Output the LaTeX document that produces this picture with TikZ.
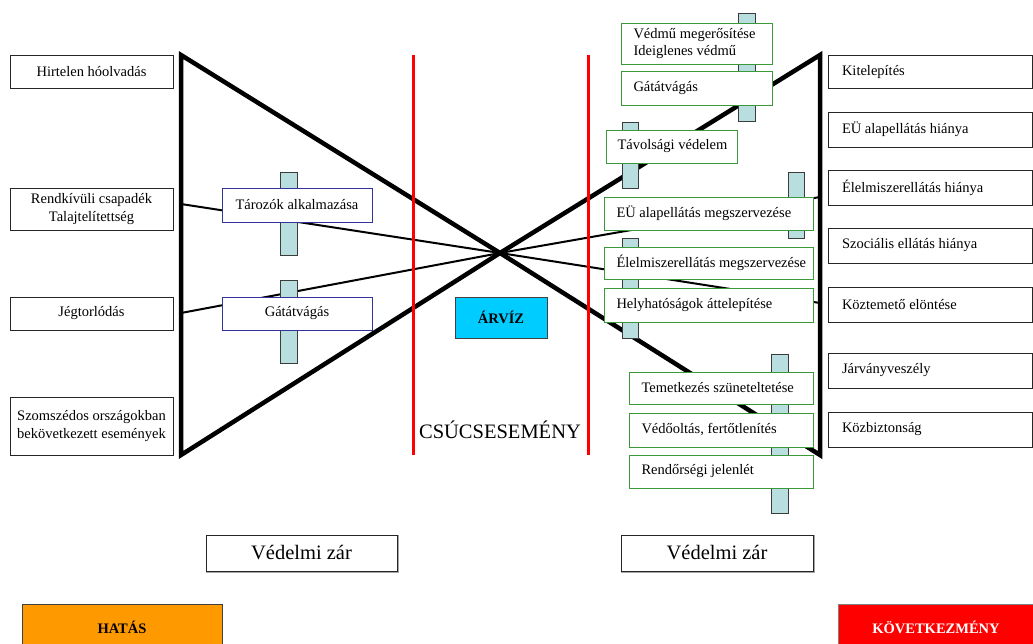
\documentclass[tikz,border=0pt]{standalone}
\usepackage{fontspec}
\setmainfont{Liberation Serif}
\definecolor{barfill}{RGB}{184,222,224}
\definecolor{bardraw}{RGB}{60,60,60}
\definecolor{bluebd}{RGB}{51,51,153}
\definecolor{greenbd}{RGB}{58,154,58}
\definecolor{arviz}{RGB}{0,204,255}
\definecolor{hatas}{RGB}{255,153,0}
\begin{document}
\begin{tikzpicture}[x=1pt,y=-1pt,
  every node/.style={inner sep=0pt, outer sep=0pt, font=\fontsize{14.5}{17.5}\selectfont},
  cbox/.style={draw=black!85, line width=1pt, fill=white, align=center},
  bluebox/.style={draw=bluebd, line width=1pt, fill=white, align=center},
  gbox/.style={draw=greenbd, line width=1pt, fill=white, align=flush left, inner xsep=12.5pt},
  rbox/.style={draw=black!85, line width=1pt, fill=white, align=flush left, inner xsep=14pt},
  barbox/.style={draw=bardraw, fill=barfill, line width=1pt},
  bowline/.style={line width=4.5pt, line join=miter},
  thinline/.style={line width=2pt},
  redline/.style={draw=red, line width=3pt},
  bigtext/.style={font=\fontsize{20.5}{23}\selectfont},
  shadowed/.style={preaction={draw=gray!70, line width=1.5pt, transform canvas={shift={(1pt,-1pt)}}}},
  boldbox/.style={draw=black!75, line width=1pt, font=\fontsize{14.5}{17.5}\selectfont\bfseries}
]
\useasboundingbox (0,0) rectangle (1033,643);

% bow-tie corners
\coordinate (C) at (500,253);
\coordinate (LT) at (181,55);
\coordinate (LB) at (181,455);
\coordinate (RT) at (820,55);
\coordinate (RB) at (820,455);
\coordinate (L1) at (181,204);
\coordinate (L2) at (181,313);
\coordinate (R1) at (820,197);
\coordinate (R2) at (820,303);

\draw[bowline] (LT) -- (C) -- (LB) -- cycle;
\draw[bowline] (RT) -- (C) -- (RB) -- cycle;
\draw[thinline] (L1) -- (C);
\draw[thinline] (L2) -- (C);
\draw[thinline] (C) -- (R1);
\draw[thinline] (C) -- (R2);

% red lines
\coordinate (RLt) at (413,55);
\coordinate (RLb) at (413,455);
\coordinate (RRt) at (588,55);
\coordinate (RRb) at (588,455);
\draw[redline] (RLt) -- (RLb);
\draw[redline] (RRt) -- (RRb);

% barriers (bars)
\draw[barbox] (280,172) rectangle (297,255);
\draw[barbox] (280,280) rectangle (297,363);
\draw[barbox] (738,13) rectangle (755,121);
\draw[barbox] (622,122) rectangle (638,188);
\draw[barbox] (788,172) rectangle (804,238);
\draw[barbox] (622,238) rectangle (638,338);
\draw[barbox] (771,354) rectangle (788,513);

% left cause boxes
\node[cbox, minimum width=163pt, minimum height=33pt] (h1) at (91.5,71.5) {Hirtelen hóolvadás};
\node[cbox, minimum width=163pt, minimum height=42pt] (h2) at (91.5,209) {Rendkívüli csapadék\\Talajtelítettség};
\node[cbox, minimum width=163pt, minimum height=33pt] (h3) at (91.5,313.5) {Jégtorlódás};
\node[cbox, minimum width=163pt, minimum height=58pt] (h4) at (91.5,426) {Szomszédos országokban\\bekövetkezett események};

% left barrier boxes
\node[bluebox, minimum width=150pt, minimum height=34pt] (t1) at (297,205) {Tározók alkalmazása};
\node[bluebox, minimum width=150pt, minimum height=33pt] (t2) at (297,313.5) {Gátátvágás};

% top event
\node[boldbox, fill=arviz, minimum width=92pt, minimum height=41pt] (arv) at (501,317.5) {ÁRVÍZ};
\node[bigtext] (csucs) at (500,430) {CSÚCSESEMÉNY};

% right barrier boxes
\node[gbox, text width=126pt, minimum height=41pt] (g1) at (696.5,43.5) {Védmű megerősítése\\Ideiglenes védmű};
\node[gbox, text width=126pt, minimum height=34pt] (g2) at (696.5,88) {Gátátvágás};
\node[gbox, text width=108pt, minimum height=33pt, inner xsep=11.5pt] (g3) at (671.5,146.5) {\mbox{Távolsági védelem}};
\node[gbox, text width=184pt, minimum height=33pt] (g4) at (708.5,213.5) {EÜ alapellátás megszervezése};
\node[gbox, text width=184pt, minimum height=32pt] (g5) at (708.5,263) {\mbox{Élelmiszerellátás megszervezése}};
\node[gbox, text width=184pt, minimum height=34pt] (g6) at (708.5,305) {Helyhatóságok áttelepítése};
\node[gbox, text width=159pt, minimum height=32pt] (g7) at (721,388) {\mbox{Temetkezés szüneteltetése}};
\node[gbox, text width=159pt, minimum height=34pt] (g8) at (721,430) {Védőoltás, fertőtlenítés};
\node[gbox, text width=159pt, minimum height=33pt] (g9) at (721,471.5) {Rendőrségi jelenlét};

% right consequence boxes
\node[rbox, text width=176.5pt, minimum height=33pt] (k1) at (930.25,71.5) {Kitelepítés};
\node[rbox, text width=176.5pt, minimum height=35pt] (k2) at (930.25,129.5) {EÜ alapellátás hiánya};
\node[rbox, text width=176.5pt, minimum height=35pt] (k3) at (930.25,187.5) {Élelmiszerellátás hiánya};
\node[rbox, text width=176.5pt, minimum height=35pt] (k4) at (930.25,245.5) {Szociális ellátás hiánya};
\node[rbox, text width=176.5pt, minimum height=35pt] (k5) at (930.25,304.5) {Köztemető elöntése};
\node[rbox, text width=176.5pt, minimum height=35pt] (k6) at (930.25,370.5) {Járványveszély};
\node[rbox, text width=176.5pt, minimum height=35pt] (k7) at (930.25,429.5) {Közbiztonság};

% bottom boxes
\node[cbox, shadowed, bigtext, minimum width=191pt, minimum height=36pt] (v1) at (301.5,553) {Védelmi zár};
\node[cbox, shadowed, bigtext, minimum width=192pt, minimum height=36pt] (v2) at (717,553) {Védelmi zár};
\node[boldbox, fill=hatas, minimum width=200pt, minimum height=46pt] (hat) at (122,627) {HATÁS};
\node[boldbox, draw=black!50, fill=red, text=white, minimum width=196pt, minimum height=46pt] (kov) at (936,627) {KÖVETKEZMÉNY};
\end{tikzpicture}
\end{document}
